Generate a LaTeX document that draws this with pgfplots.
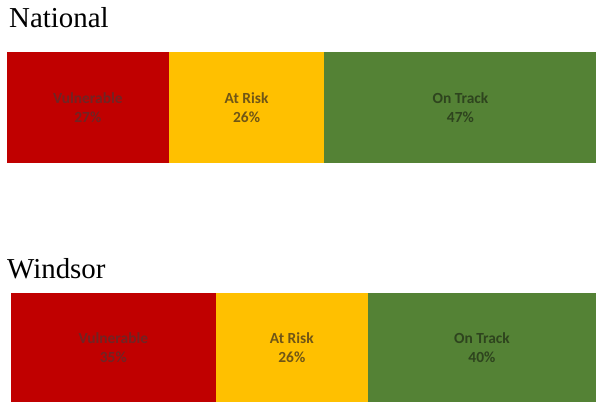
\documentclass[border=0pt]{standalone}
\usepackage{pgfplots}
\pgfplotsset{compat=1.18}
\usepackage{fontspec}
\setmainfont{Liberation Serif}
\newfontfamily\lab{Carlito}
\definecolor{vul}{HTML}{C00000}
\definecolor{risk}{HTML}{FFC000}
\definecolor{ontrack}{HTML}{548235}
\definecolor{vultxt}{RGB}{112,36,36}
\definecolor{risktxt}{RGB}{112,86,22}
\definecolor{ontracktxt}{RGB}{46,68,30}
\tikzset{seglabel/.style={font=\lab\bfseries\fontsize{15.5}{19}\selectfont, align=center,
    inner sep=0pt}}
\pgfplotsset{
  onebar/.style={xbar stacked, hide axis, scale only axis, ymin=-0.5, ymax=0.5,
    enlargelimits=false, xmin=0, xmax=100, anchor=south west, clip=false}
}
\begin{document}
\begin{tikzpicture}
\useasboundingbox (0bp,0bp) rectangle (596bp,402bp);
\node[anchor=base west, inner sep=0pt, font=\fontsize{29}{32}\selectfont] at (9bp,374bp) {National};
\node[anchor=base west, inner sep=0pt, font=\fontsize{29}{32}\selectfont] at (7bp,123bp) {Windsor};
\begin{axis}[onebar, at={(7bp,239bp)}, width=599bp, height=111bp, bar width=111bp,
  after end axis/.code={
    \node[seglabel, text=vultxt] at (axis cs:13.5,0) {Vulnerable\\27\%};
    \node[seglabel, text=risktxt] at (axis cs:40,0) {At Risk\\26\%};
    \node[seglabel, text=ontracktxt] at (axis cs:75.7,0) {On Track\\47\%};
  }]
\addplot[fill=vul, draw=none] coordinates {(27,0)};
\addplot[fill=risk, draw=none] coordinates {(26,0)};
\addplot[fill=ontrack, draw=none] coordinates {(47,0)};
\end{axis}
\begin{axis}[onebar, at={(11bp,0bp)}, width=585bp, height=109bp, bar width=109bp,
  after end axis/.code={
    \node[seglabel, text=vultxt] at (axis cs:17.5,0) {Vulnerable\\35\%};
    \node[seglabel, text=risktxt] at (axis cs:48,0) {At Risk\\26\%};
    \node[seglabel, text=ontracktxt] at (axis cs:80.5,0) {On Track\\40\%};
  }]
\addplot[fill=vul, draw=none] coordinates {(35,0)};
\addplot[fill=risk, draw=none] coordinates {(26,0)};
\addplot[fill=ontrack, draw=none] coordinates {(40,0)};
\end{axis}
\end{tikzpicture}
\end{document}
